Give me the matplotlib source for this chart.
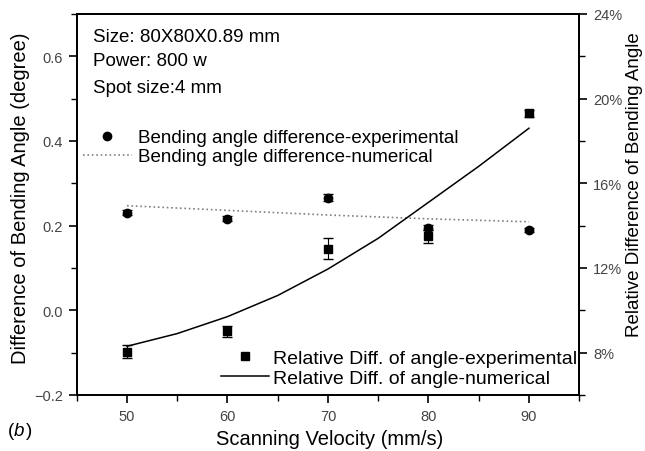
import numpy as np
from matplotlib import pyplot as plt
from matplotlib.ticker import MultipleLocator, FuncFormatter

# data
velocity = [50, 60, 70, 80, 90]
bend_exp = [0.23, 0.216, 0.266, 0.195, 0.19]
bend_exp_err = [0.006, 0.006, 0.008, 0.006, 0.005]
bend_num = [0.247, 0.236, 0.225, 0.216, 0.209]
rel_exp = [8.05, 9.0, 12.9, 13.5, 19.3]
rel_exp_err = [0.3, 0.25, 0.5, 0.3, 0.15]
rel_num_x = [50, 55, 60, 65, 70, 75, 80, 85, 90]
rel_num = [8.3, 8.9, 9.7, 10.7, 11.95, 13.4, 15.1, 16.8, 18.6]

plt.rcParams['font.family'] = 'Liberation Sans'

fig = plt.figure(figsize=(6.45, 4.52), dpi=100)
ax = fig.add_axes([0.119, 0.124, 0.779, 0.843])
ax2 = ax.twinx()

ax.errorbar(velocity, bend_exp, yerr=bend_exp_err, fmt='o', color='black',
            ms=6, capsize=3.5, elinewidth=0.8)
ax.plot(velocity, bend_num, linestyle=':', color='gray', lw=1.2)
ax2.errorbar(velocity, rel_exp, yerr=rel_exp_err, fmt='s', color='black',
             ms=5.5, capsize=3.5, elinewidth=0.8)
ax2.plot(rel_num_x, rel_num, color='black', lw=1.1)

ax.set_xlim(45, 95)
ax.set_ylim(-0.2, 0.7)
ax2.set_ylim(6, 24)
ax.set_xticks([50, 60, 70, 80, 90])
ax.xaxis.set_minor_locator(MultipleLocator(5))
ax.set_yticks([-0.2, 0.0, 0.2, 0.4, 0.6])
ax.yaxis.set_minor_locator(MultipleLocator(0.1))
ax2.set_yticks([8, 12, 16, 20, 24])
ax2.yaxis.set_minor_locator(MultipleLocator(2))
ax2.yaxis.set_major_formatter(FuncFormatter(lambda v, p: '%d%%' % v))

for a in (ax, ax2):
    a.tick_params(which='major', direction='out', length=6, width=1.2, labelsize=10.5,
                  labelcolor='#444444', pad=4)
    a.tick_params(which='minor', direction='out', length=4, width=1.0)
    for s in a.spines.values():
        s.set_linewidth(1.3)

ax.set_xlabel('Scanning Velocity (mm/s)', fontsize=14.5)
ax.set_ylabel('Difference of Bending Angle (degree)', fontsize=14.5)
ax2.set_ylabel('Relative Difference of Bending Angle', fontsize=13.5)
ax.xaxis.set_label_coords(0.504, -0.089)
ax.yaxis.set_label_coords(-0.094, 0.52)
ax2.yaxis.set_label_coords(1.094, 0.554)

ax.text(0.032, 0.942, 'Size: 80X80X0.89 mm', transform=ax.transAxes, fontsize=13.5, va='center')
ax.text(0.032, 0.877, 'Power: 800 w', transform=ax.transAxes, fontsize=13.5, va='center')
ax.text(0.032, 0.808, 'Spot size:4 mm', transform=ax.transAxes, fontsize=13.5, va='center')

h1 = plt.Line2D([], [], marker='o', ls='none', color='black', ms=6)
h2 = plt.Line2D([], [], ls=':', color='gray', lw=1.2)
ax.legend([h1, h2], ['Bending angle difference-experimental', 'Bending angle difference-numerical'],
          loc='upper left', bbox_to_anchor=(0.012, 0.698), frameon=False, fontsize=13.5,
          borderaxespad=0, borderpad=0, handlelength=2.6, labelspacing=0.12, handletextpad=0.35)

h3 = plt.Line2D([], [], marker='s', ls='none', color='black', ms=5.5)
h4 = plt.Line2D([], [], ls='-', color='black', lw=1.1)
ax2.legend([h3, h4], ['Relative Diff. of angle-experimental', 'Relative Diff. of angle-numerical'],
           loc='lower right', bbox_to_anchor=(0.996, 0.022), frameon=False, fontsize=14,
           borderaxespad=0, borderpad=0, handlelength=2.5, labelspacing=0.12, handletextpad=0.2,
           alignment='left')

fig.text(0.012, 0.035, '(', fontsize=13.5)
fig.text(0.022, 0.035, 'b', fontsize=13.5, style='italic')
fig.text(0.040, 0.035, ')', fontsize=13.5)

fig.savefig('out.png', dpi=100)
